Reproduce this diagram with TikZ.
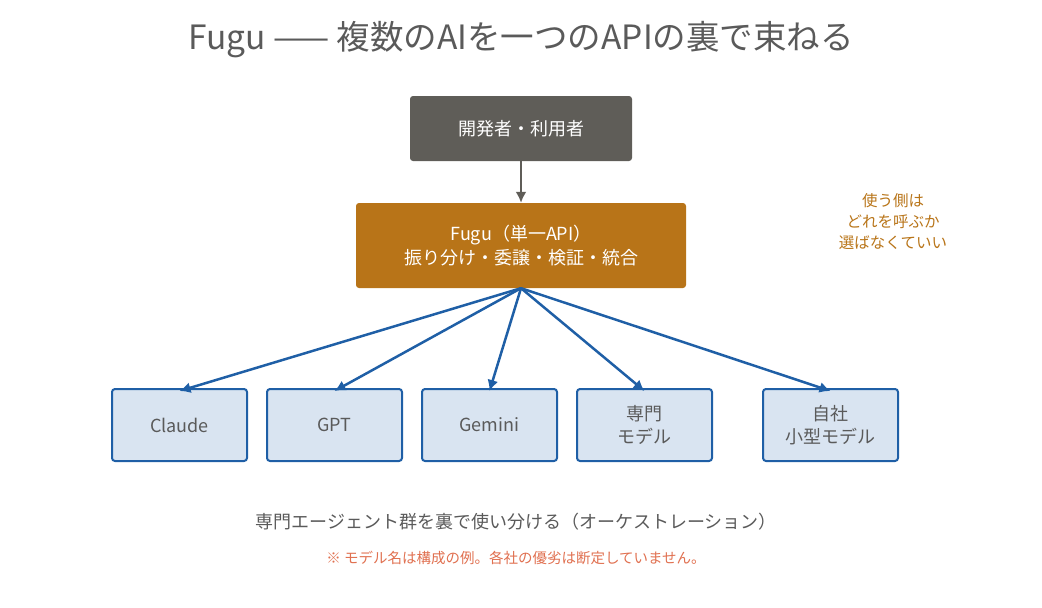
\documentclass[tikz,border=0pt]{standalone}
\usepackage{fontspec}
\setmainfont{Noto Sans CJK JP}
\definecolor{ink}{HTML}{5A5A5A}
\definecolor{devgray}{HTML}{5F5D58}
\definecolor{fuguorange}{HTML}{B87418}
\definecolor{modelfill}{HTML}{D9E4F1}
\definecolor{modelblue}{HTML}{1F5FA6}
\definecolor{notered}{HTML}{E07050}
\tikzstyle{box}=[rectangle, rounded corners=3, align=center, inner sep=0]
\tikzstyle{box dev}=[box, fill=devgray, text=white, minimum width=222, minimum height=65, font=\fontsize{18}{22}\selectfont]
\tikzstyle{box fugu}=[box, fill=fuguorange, text=white, minimum width=330, minimum height=85, font=\fontsize{18}{24}\selectfont]
\tikzstyle{box model}=[box, fill=modelfill, draw=modelblue, line width=2, text=ink, minimum width=135, minimum height=72, font=\fontsize{18}{23}\selectfont]
\tikzstyle{connect}=[modelblue, line width=2.5, -{Latex[length=11,width=11]}]

\usetikzlibrary{arrows.meta}
\begin{document}
\begin{tikzpicture}[x=1pt, y=-1pt]
  \useasboundingbox (0,0) rectangle (1042,608);

  % TITLE
  \node[ink, font=\fontsize{33.5}{40}\selectfont] (title) at (521,40) {Fugu —— 複数のAIを一つのAPIの裏で束ねる};

  % TOP
  \node[box dev] (dev) at (521,128.5) {開発者・利用者};
  \node[box fugu] (fugu) at (521,245.5) {Fugu（単一API）\\振り分け・委譲・検証・統合};
  \draw[devgray, line width=2.5, -{Latex[length=11,width=11]}] (dev) -- (fugu);
  \node[fuguorange, align=center, font=\fontsize{15.5}{21}\selectfont] (aside) at (893,222) {使う側は\\どれを呼ぶか\\選ばなくていい};

  % MODELS
  \foreach \x/\name/\txt in {179.5/claude/Claude, 334.5/gpt/GPT, 489.5/gemini/Gemini,
                             644.5/expert/専門\\モデル, 830.5/inhouse/自社\\小型モデル}{
    \node[box model] (\name) at (\x,425) {\txt};
    \draw[connect] (fugu.south) -- ([yshift=-3]\name.north);
  }

  % FOOTER
  \node[ink, font=\fontsize{18}{22}\selectfont] (orch) at (516,522) {専門エージェント群を裏で使い分ける（オーケストレーション）};
  \node[notered, font=\fontsize{14.5}{18}\selectfont] (note) at (516,558) {※ モデル名は構成の例。各社の優劣は断定していません。};
\end{tikzpicture}
\end{document}
